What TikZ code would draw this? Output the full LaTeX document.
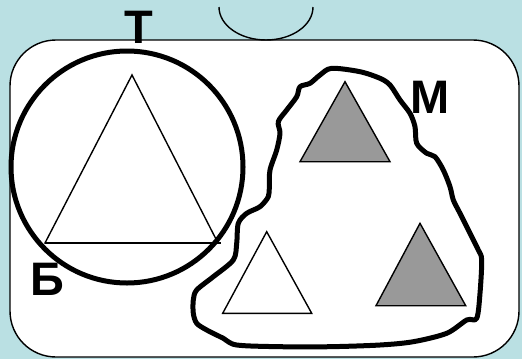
\documentclass[tikz,border=0pt]{standalone}
\usepackage{fontspec}
\setmainfont{Liberation Sans}
\definecolor{bgblue}{RGB}{186,224,227}
\definecolor{tgray}{RGB}{153,153,153}
\begin{document}
\begin{tikzpicture}[x={(1pt,0)},y={(0,-1pt)},
  thin line/.style={draw=black,line width=1.4pt},
  thick line/.style={draw=black,line width=5pt,line join=round},
  lbl/.style={font=\fontsize{47}{47}\selectfont\bfseries,inner sep=0pt,anchor=base}]
\fill[bgblue] (0,0) rectangle (522,359);
\useasboundingbox (0,0) rectangle (522,359);
% universe rectangle
\draw[line width=1.4pt,fill=white,rounded corners=46pt] (10,40) rectangle (519,357);
% half ellipse at top
\draw[line width=1.4pt] (219,7) arc[start angle=180,end angle=360,x radius=47pt,y radius=33pt];
% big circle T
\draw[thick line] (127,167) circle[radius=116pt];
% triangle in circle
\coordinate (tA) at (132,75);
\coordinate (tB) at (45,243);
\coordinate (tC) at (218,243);
\draw[thin line,line join=miter] (tA) -- (tB) -- (tC) -- cycle;
\draw[thin line] (tB) -- (221,243);
% blob M
\draw[thick line] plot[smooth cycle,tension=0.5] coordinates {
(331.7,68.3) (360,71.7) (380,78.3) (390,85) (400,100) (410,113.3) (415,126.7)
(416.7,143.3) (426.7,153.3) (435,156.7) (443.3,170) (450,186.7) (453.3,200)
(460,213.3) (470,233.3) (478.3,250) (481.7,260) (480,293.3) (476.7,318.3)
(466.7,320) (446.7,333.3) (413.3,341.7) (380,345) (330,346.7) (280,346.7)
(236.7,345) (223.3,338.3) (206.7,330) (196.7,323.3) (193.3,313.3) (193.3,300)
(196.7,290) (213.3,276.7) (233.3,260) (236.7,243.3) (238.3,223.3) (246.7,213.3)
(260,206.7) (268.3,196.7) (269.3,186.7) (270,170) (276.7,150) (280,133.3)
(278.3,121.7) (286.7,110) (296.7,96.7) (300,86.7) (310,83.3) (320,75)};
% gray triangles
\filldraw[thin line,fill=tgray,line join=miter] (345,81.7) -- (300,161.7) -- (390,161.7) -- cycle;
\filldraw[thin line,fill=tgray,line join=miter] (420,223.3) -- (376,305.7) -- (465.7,305.7) -- cycle;
% white triangle
\filldraw[thin line,fill=white,line join=miter] (266.7,231.7) -- (222.7,313.3) -- (311.7,313.3) -- cycle;
% labels
\node[lbl] (T) at (139,43) {Т};
\node[lbl] (M) at (430,113) {М};
\node[lbl] (B) at (47,295) {Б};
\end{tikzpicture}
\end{document}
